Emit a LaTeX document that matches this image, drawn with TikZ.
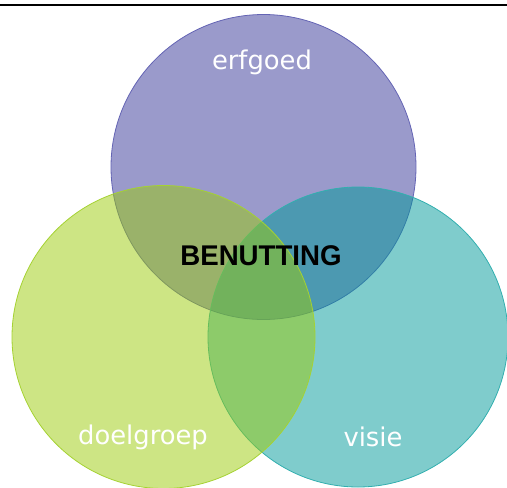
\documentclass[tikz,border=0pt]{standalone}
\usepackage{fontspec}
\setmainfont{DejaVu Sans}
\newfontfamily\benfont{Liberation Sans}
\definecolor{purp}{RGB}{53,53,151}
\definecolor{purpedge}{RGB}{100,100,180}
\definecolor{grn}{RGB}{155,203,10}
\definecolor{grnedge}{RGB}{165,210,50}
\definecolor{tea}{RGB}{0,153,153}
\definecolor{teaedge}{RGB}{50,175,175}
\begin{document}
\begin{tikzpicture}[x=1pt,y=-1pt,
  setc/.style={circle,minimum size=305pt,inner sep=0pt,fill opacity=0.5,line width=0.8pt},
  lab/.style={text=white,font=\fontsize{25.8}{26}\selectfont,inner sep=0pt}]
\useasboundingbox (0,0) rectangle (507,488);
\node[setc,fill=purp,draw=purpedge] (erf) at (263.5,167) {};
\node[setc,fill=tea,draw=teaedge,minimum size=300pt] (vis) at (358,337) {};
\node[setc,fill=grn,draw=grnedge,minimum size=303pt] (doel) at (163.5,337) {};
\draw[line width=2pt] (0,5) coordinate (tl) -- (507,5) coordinate (tr);
\node[lab] (terf) at (262,62) {erfgoed};
\node[lab] (tdoel) at (143,437) {doelgroep};
\node[lab] (tvis) at (373,437) {visie};
\node[inner sep=0pt,font=\benfont\bfseries\fontsize{28.5}{28}\selectfont,xscale=0.97] (ben) at (261,256) {BENUTTING};
\end{tikzpicture}
\end{document}
